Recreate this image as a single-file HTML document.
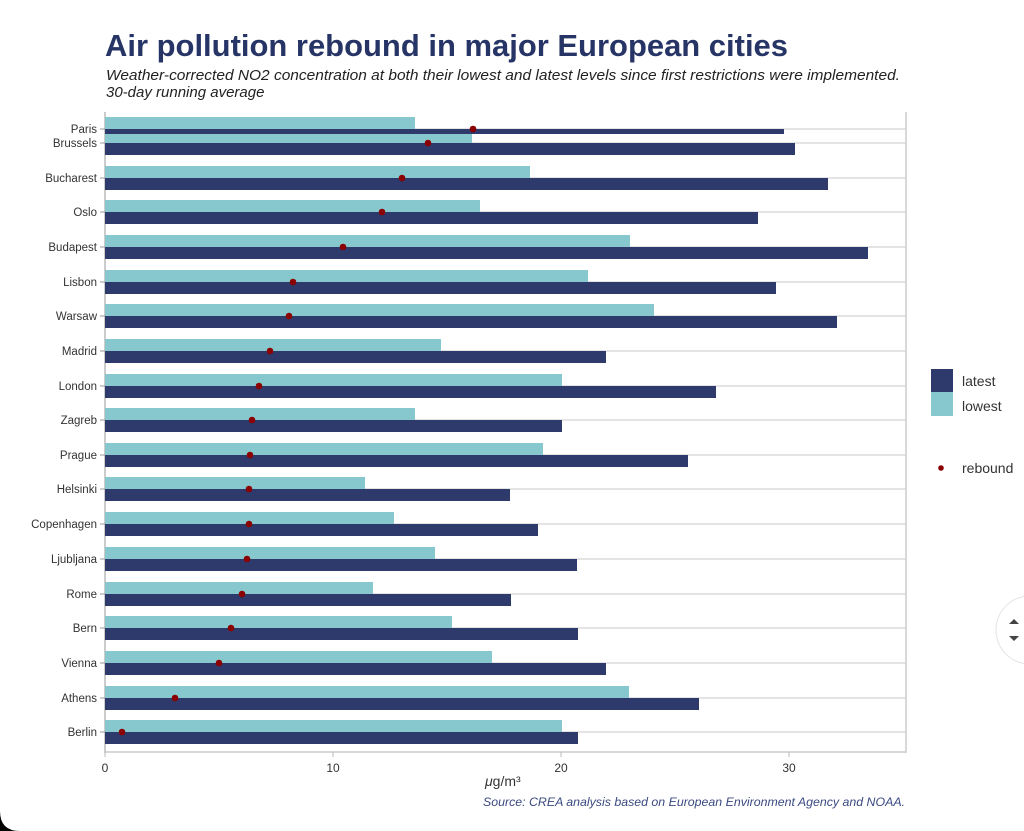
<!DOCTYPE html>
<html><head><meta charset="utf-8"><style>
html,body{margin:0;padding:0;background:#fff;width:1024px;height:831px;overflow:hidden;font-family:"Liberation Sans",sans-serif}
</style></head><body>
<svg width="1024" height="831" viewBox="0 0 1024 831" xmlns="http://www.w3.org/2000/svg" font-family="Liberation Sans, sans-serif">
<rect width="1024" height="831" fill="#fff"/>
<text x="105" y="56" font-size="30.5" font-weight="bold" fill="#263466" textLength="683" lengthAdjust="spacingAndGlyphs">Air pollution rebound in major European cities</text>
<text x="106" y="80" font-size="15" font-style="italic" fill="#222" textLength="794" lengthAdjust="spacingAndGlyphs">Weather-corrected NO2 concentration at both their lowest and latest levels since first restrictions were implemented.</text>
<text x="106" y="97" font-size="15" font-style="italic" fill="#222">30-day running average</text>
<line x1="906" y1="112" x2="906" y2="753" stroke="#ccc" stroke-width="1.5"/>
<line x1="105" y1="752" x2="906" y2="752" stroke="#ccc" stroke-width="1.5"/>
<line x1="105" y1="112" x2="105" y2="753" stroke="#bbb" stroke-width="1.5"/>
<g id="bars"></g>
<g font-size="12" fill="#333" text-anchor="middle">
<text x="105" y="772">0</text><text x="333" y="772">10</text><text x="561" y="772">20</text><text x="789" y="772">30</text>
</g>
<g stroke="#bbb"><line x1="105" y1="752" x2="105" y2="757"/><line x1="333" y1="752" x2="333" y2="757"/><line x1="561" y1="752" x2="561" y2="757"/><line x1="789" y1="752" x2="789" y2="757"/></g>
<text x="485" y="786" font-size="14" fill="#333"><tspan font-style="italic">μ</tspan>g/m³</text>
<text x="905" y="806" font-size="12" font-style="italic" fill="#3a4a80" text-anchor="end" textLength="422" lengthAdjust="spacingAndGlyphs">Source: CREA analysis based on European Environment Agency and NOAA.</text>
<rect x="931" y="369" width="22" height="23" fill="#2d3a6b"/>
<rect x="931" y="392" width="22" height="24" fill="#86c8cd"/>
<text x="962" y="386" font-size="14" fill="#333">latest</text>
<text x="962" y="411" font-size="14" fill="#333">lowest</text>
<circle cx="941" cy="468" r="2.8" fill="#8b0000"/>
<text x="962" y="473" font-size="14" fill="#333">rebound</text>
<circle cx="1030" cy="630" r="34" fill="#fff" stroke="#e4e4e4"/>
<path d="M1009 624 l5 -5 l5 5z M1009 636 l5 5 l5 -5z" fill="#444"/>
<path d="M0 811 Q0 831 20 831 L0 831Z" fill="#000"/>
</svg>
<script>
const rows=[
["Paris",129,415,784,473],["Brussels",143,472,795,428],["Bucharest",178,530,828,402],["Oslo",212,480,758,382],
["Budapest",247,630,868,343],["Lisbon",282,588,776,293],["Warsaw",316,654,837,289],["Madrid",351,441,606,270],
["London",386,562,716,259],["Zagreb",420,415,562,252],["Prague",455,543,688,250],["Helsinki",489,365,510,249],
["Copenhagen",524,394,538,249],["Ljubljana",559,435,577,247],["Rome",594,373,511,242],["Bern",628,452,578,231],
["Vienna",663,492,606,219],["Athens",698,629,699,175],["Berlin",732,562,578,122]];
let s="";
rows.forEach((r,i)=>{
 const [n,c,l,d,p]=r;
 s+=`<line x1="105" y1="${c}" x2="906" y2="${c}" stroke="#c8c8c8" stroke-width="1"/>`;
});
rows.forEach((r,i)=>{
 const [n,c,l,d,p]=r;
 let ly=c-12,lh=12,dy=c,dh=12;
 if(n=="Paris"){ly=117;lh=12;dy=129;dh=5;}
 if(n=="Brussels"){ly=134;lh=9;dy=143;dh=12;}
 s+=`<rect x="105" y="${ly}" width="${l-105}" height="${lh}" fill="#86c8cd"/>`;
 s+=`<rect x="105" y="${dy}" width="${d-105}" height="${dh}" fill="#2d3a6b"/>`;
 s+=`<circle cx="${p}" cy="${c}" r="3.3" fill="#8b0000"/>`;
 s+=`<text x="97" y="${c+4}" font-size="11.5" fill="#333" text-anchor="end">${n}</text>`;
 s+=`<line x1="100" y1="${c}" x2="105" y2="${c}" stroke="#999"/>`;
});
document.getElementById("bars").innerHTML=s;
</script>
</body></html>
